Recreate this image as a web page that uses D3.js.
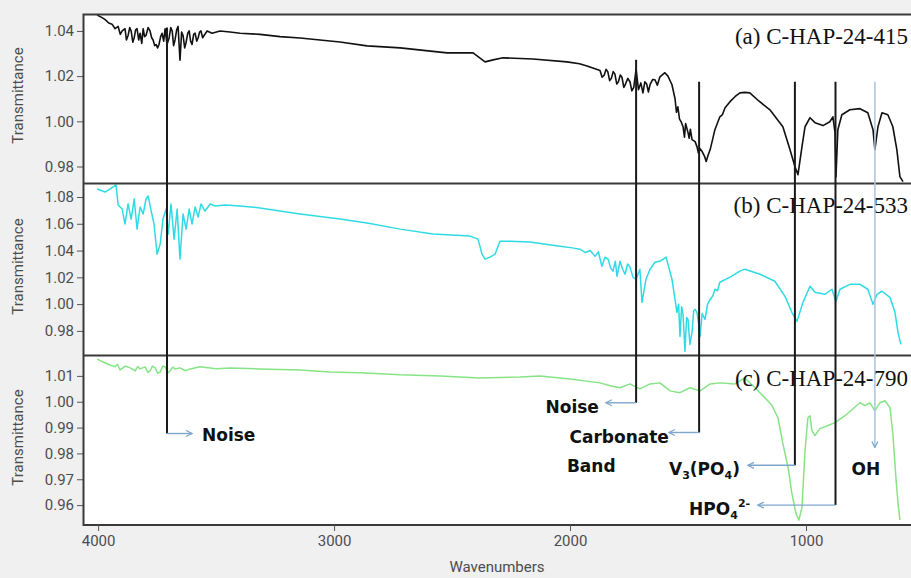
<!DOCTYPE html>
<html>
<head>
<meta charset="utf-8">
<style>
  body { margin: 0; padding: 0; background: #f0f0f0; }
  svg { display: block; }
  .tick text { font-family: Roboto, sans-serif; font-size: 15px; fill: #4d4d4d; }
  .tick line { stroke: #555; }
  .ylab, .xlab { font-family: Roboto, sans-serif; font-size: 15px; fill: #4d4d4d; }
  .note { font-family: "DejaVu Sans", sans-serif; font-weight: bold; font-size: 17px; fill: #111; }
  .tag { font-family: "Liberation Serif", serif; font-size: 23px; fill: #111; }
</style>
</head>
<body>
<div id="chart"></div>
<script src="https://cdnjs.cloudflare.com/ajax/libs/d3/7.8.5/d3.min.js"></script>
<script>
// spectra: [wavenumber, transmittance]
var specA = [[4004,1.047],[3985,1.046],[3970,1.045],[3955,1.0435],[3941,1.043],[3928,1.041],[3915,1.042],[3906,1.0385],[3898,1.040],[3886,1.041],[3880,1.036],[3873,1.038],[3866,1.0415],[3860,1.040],[3853,1.035],[3847,1.037],[3841,1.0405],[3835,1.041],[3828,1.036],[3822,1.039],[3815,1.0345],[3809,1.041],[3803,1.0375],[3797,1.038],[3788,1.0415],[3780,1.040],[3773,1.037],[3767,1.036],[3760,1.0335],[3754,1.034],[3748,1.0325],[3742,1.034],[3735,1.0375],[3729,1.039],[3722,1.0355],[3716,1.041],[3708,1.034],[3699,1.037],[3692,1.0415],[3686,1.040],[3680,1.0335],[3674,1.036],[3667,1.0405],[3661,1.042],[3653,1.027],[3646,1.0395],[3640,1.038],[3633,1.0325],[3627,1.035],[3620,1.039],[3614,1.040],[3608,1.0355],[3602,1.034],[3595,1.0385],[3589,1.039],[3582,1.0355],[3576,1.037],[3570,1.0395],[3564,1.040],[3557,1.037],[3551,1.038],[3538,1.040],[3517,1.039],[3483,1.040],[3441,1.0395],[3398,1.039],[3314,1.0385],[3229,1.0375],[3144,1.0369],[2975,1.0351],[2860,1.0334],[2720,1.0325],[2521,1.0303],[2411,1.0303],[2360,1.0263],[2326,1.0272],[2284,1.0281],[2157,1.0276],[2013,1.0263],[1960,1.0255],[1928,1.0245],[1900,1.0235],[1873,1.0225],[1864,1.0195],[1855,1.0205],[1847,1.0230],[1840,1.0220],[1832,1.0180],[1825,1.0190],[1817,1.0220],[1810,1.0210],[1802,1.0165],[1795,1.0175],[1787,1.0205],[1780,1.0195],[1772,1.0150],[1765,1.0165],[1755,1.0190],[1746,1.0175],[1738,1.0135],[1730,1.0150],[1720,1.0230],[1710,1.0140],[1700,1.0170],[1691,1.0126],[1683,1.0175],[1675,1.0165],[1668,1.0130],[1661,1.0162],[1650,1.0185],[1640,1.0184],[1630,1.0160],[1619,1.0197],[1598,1.0215],[1585,1.0200],[1568,1.0162],[1555,1.0100],[1549,1.0040],[1543,1.0064],[1536,1.0010],[1530,1.0000],[1521,0.9976],[1515,0.9930],[1510,0.9990],[1500,0.9950],[1495,0.9925],[1490,0.9965],[1483,0.9919],[1470,0.9910],[1462,0.9888],[1456,0.9860],[1450,0.9880],[1440,0.9866],[1430,0.9845],[1423,0.9822],[1415,0.9850],[1406,0.9875],[1386,0.9963],[1365,1.0020],[1354,1.0030],[1343,1.0060],[1322,1.0087],[1300,1.0110],[1280,1.0126],[1259,1.0128],[1238,1.0126],[1200,1.0090],[1153,1.0051],[1098,0.9976],[1068,0.9875],[1047,0.9800],[1034,0.9764],[1017,0.9888],[1004,0.9976],[983,1.0016],[962,0.9994],[928,0.9981],[899,0.9998],[886,1.0020],[877,0.9950],[873,0.9755],[865,0.9963],[848,1.0029],[814,1.0051],[771,1.0056],[738,1.0038],[716,0.9963],[708,0.9875],[695,0.9976],[678,1.0038],[653,1.0029],[632,0.9976],[615,0.9875],[602,0.9755],[589,0.9733]];

var specB = [[4004,1.086],[3970,1.0837],[3949,1.086],[3924,1.089],[3915,1.074],[3898,1.071],[3886,1.0598],[3873,1.0748],[3860,1.0635],[3847,1.0785],[3835,1.056],[3822,1.0725],[3809,1.0673],[3797,1.0785],[3788,1.0807],[3775,1.0695],[3763,1.0598],[3750,1.0373],[3737,1.0448],[3725,1.0635],[3712,1.071],[3703,1.0523],[3691,1.0748],[3678,1.0485],[3665,1.071],[3653,1.0336],[3640,1.0673],[3627,1.056],[3614,1.071],[3602,1.0598],[3589,1.0725],[3576,1.065],[3564,1.0748],[3547,1.0695],[3525,1.0748],[3504,1.0733],[3462,1.074],[3398,1.0733],[3314,1.0718],[3229,1.0695],[3144,1.0673],[2975,1.0635],[2860,1.0605],[2720,1.056],[2581,1.0523],[2424,1.0508],[2390,1.0485],[2373,1.0373],[2360,1.0336],[2339,1.0351],[2318,1.0373],[2297,1.047],[2254,1.047],[2170,1.0463],[2043,1.0433],[1990,1.0420],[1958,1.041],[1935,1.0385],[1915,1.0400],[1894,1.0358],[1880,1.0390],[1865,1.0283],[1852,1.0350],[1839,1.0336],[1828,1.0270],[1818,1.0246],[1808,1.0320],[1801,1.0208],[1788,1.032],[1777,1.0260],[1767,1.0223],[1756,1.0300],[1746,1.0276],[1733,1.0200],[1720,1.0186],[1704,1.026],[1695,1.0013],[1678,1.0186],[1661,1.026],[1640,1.0313],[1619,1.032],[1593,1.0351],[1568,1.0186],[1555,1.0036],[1547,0.9939],[1540,1.0000],[1534,0.9759],[1527,0.9980],[1521,0.9924],[1513,0.9647],[1506,0.9900],[1500,0.9886],[1492,0.9699],[1483,0.9789],[1476,0.9950],[1470,0.9961],[1462,0.9939],[1455,0.9850],[1449,0.9759],[1440,0.9930],[1428,0.9886],[1417,1.0000],[1406,1.0036],[1395,1.0060],[1386,1.0111],[1375,1.0100],[1365,1.0163],[1322,1.0201],[1280,1.0246],[1259,1.0261],[1195,1.0223],[1132,1.0171],[1089,1.0058],[1060,0.9939],[1038,0.9871],[1013,1.0013],[983,1.0133],[962,1.0088],[920,1.0073],[890,1.0111],[873,1.0021],[856,1.0111],[814,1.0148],[771,1.0148],[738,1.0111],[716,0.9999],[699,1.0073],[678,1.0096],[644,1.0051],[623,0.9939],[610,0.9789],[598,0.9699]];

var specC = [[4004,1.0165],[3970,1.015],[3950,1.0142],[3928,1.0135],[3918,1.0145],[3907,1.0123],[3885,1.0138],[3864,1.0131],[3843,1.0119],[3832,1.0136],[3822,1.0127],[3801,1.0135],[3790,1.0114],[3780,1.0119],[3770,1.0138],[3758,1.0131],[3748,1.0110],[3737,1.0115],[3726,1.0138],[3716,1.0135],[3705,1.0112],[3695,1.0119],[3684,1.0134],[3674,1.0127],[3653,1.0131],[3630,1.0120],[3610,1.0127],[3568,1.0135],[3500,1.0128],[3441,1.0131],[3314,1.0127],[3144,1.0123],[3017,1.0115],[2890,1.0112],[2720,1.0104],[2551,1.0100],[2382,1.0092],[2212,1.0096],[2127,1.0100],[2000,1.0088],[1873,1.0073],[1830,1.0062],[1788,1.0054],[1746,1.0069],[1704,1.0050],[1661,1.0069],[1619,1.0073],[1576,1.0042],[1534,1.0035],[1492,1.0054],[1449,1.0042],[1406,1.0069],[1365,1.0073],[1301,1.0069],[1259,1.0092],[1216,1.0054],[1174,1.0015],[1144,0.9985],[1119,0.9938],[1098,0.9838],[1076,0.9746],[1060,0.9646],[1043,0.9569],[1030,0.9542],[1017,0.9592],[1004,0.9811],[992,0.9938],[983,0.9946],[975,0.9888],[962,0.9869],[941,0.9896],[907,0.9908],[877,0.9919],[835,0.9946],[801,0.9973],[771,0.9996],[750,0.9985],[729,0.9996],[708,0.9965],[687,0.9996],[665,1.0004],[644,0.9977],[632,0.9877],[619,0.9707],[610,0.9607],[602,0.9542]];

var ticksA = [0.98, 1.00, 1.02, 1.04];
var ticksB = [0.98, 1.00, 1.02, 1.04, 1.06, 1.08];
var ticksC = [0.96, 0.97, 0.98, 0.99, 1.00, 1.01];
var xTicks = [4000, 3000, 2000, 1000];
var sampleNames = ['(a) C-HAP-24-415', '(b) C-HAP-24-533', '(c) C-HAP-24-790'];
var bandWn = [3708, 1720, 1453, 1047, 875, 708];

var width = 911, height = 578;
var svg = d3.select('#chart').append('svg').attr('width', width).attr('height', height);
svg.append('rect').attr('width', width).attr('height', height).attr('fill', '#f0f0f0');
svg.append('rect').attr('x', 83).attr('y', 14).attr('width', 830).attr('height', 511).attr('fill', '#fff');

var x = d3.scaleLinear().domain([4064, 555]).range([83, 911]);

var panels = [
  {data: specA, dom: [0.9727, 1.0475], rng: [183, 14], ticks: ticksA, color: '#111', tagY: 44},
  {data: specB, dom: [0.962, 1.0897], rng: [355, 184], ticks: ticksB, color: '#2edbe4', tagY: 213},
  {data: specC, dom: [0.9523, 1.0177], rng: [525, 356], ticks: ticksC, color: '#86e486', tagY: 386}
];

var defs = svg.append('defs');
panels.forEach(function(p, i) {
  p.y = d3.scaleLinear().domain(p.dom).range(p.rng);
  defs.append('clipPath').attr('id', 'clip' + i).append('rect')
    .attr('x', 83).attr('y', p.rng[1]).attr('width', 828).attr('height', p.rng[0] - p.rng[1]);

  var line = d3.line().x(function(d) { return x(d[0]); }).y(function(d) { return p.y(d[1]); });
  svg.append('path').datum(p.data)
    .attr('clip-path', 'url(#clip' + i + ')')
    .attr('d', line)
    .attr('fill', 'none')
    .attr('stroke', p.color)
    .attr('stroke-width', i == 0 ? 1.6 : 1.5)
    .attr('stroke-linejoin', 'round');

  var ax = svg.append('g').attr('transform', 'translate(83,0)')
    .call(d3.axisLeft(p.y).tickValues(p.ticks).tickFormat(d3.format('.2f')).tickSize(6).tickPadding(3));
  ax.select('.domain').remove();

  svg.append('text').attr('class', 'ylab')
    .attr('transform', 'translate(23,' + ((p.rng[0] + p.rng[1]) / 2 - 3) + ') rotate(-90)')
    .attr('text-anchor', 'middle').text('Transmittance');

  svg.append('text').attr('class', 'tag')
    .attr('x', 908).attr('y', p.tagY).attr('text-anchor', 'end').text(sampleNames[i]);
});

// frame
svg.append('path')
  .attr('d', 'M913,14.5 H83.5 V525 H913 M83,183.5 H913 M83,355.5 H913')
  .attr('fill', 'none').attr('stroke', '#3a3a3a').attr('stroke-width', 2);

var xa = svg.append('g').attr('transform', 'translate(0,525)')
  .call(d3.axisBottom(x).tickValues(xTicks).tickFormat(d3.format('d')).tickSize(6).tickPadding(4));
xa.select('.domain').remove();
svg.append('text').attr('class', 'xlab').attr('x', 497).attr('y', 572)
  .attr('text-anchor', 'middle').text('Wavenumbers');

// band annotations
var yA = panels[0].y, yC = panels[2].y;
var blue = '#7fa6cc';
defs.append('marker').attr('id', 'head').attr('viewBox', '0 0 8 8')
  .attr('refX', 7).attr('refY', 4).attr('markerWidth', 8).attr('markerHeight', 8)
  .attr('markerUnits', 'userSpaceOnUse').attr('orient', 'auto')
  .append('path').attr('d', 'M1,1 L7,4 L1,7').attr('fill', 'none')
  .attr('stroke', blue).attr('stroke-width', 1.3);

function elbow(wn, top, bot, tip) {
  var lx = x(wn), by = yC(bot);
  svg.append('line').attr('x1', lx).attr('x2', lx).attr('y1', yA(top)).attr('y2', by)
    .attr('stroke', '#1a1a1a').attr('stroke-width', 2);
  svg.append('line').attr('x1', lx).attr('x2', x(tip)).attr('y1', by).attr('y2', by)
    .attr('stroke', blue).attr('stroke-width', 1.4).attr('marker-end', 'url(#head)');
  return by;
}

var y1 = elbow(bandWn[0], 1.0415, 0.9877, 3602);
svg.append('text').attr('class', 'note').attr('x', x(3602) + 10).attr('y', y1 + 7).text('Noise');

var y2 = elbow(bandWn[1], 1.0272, 0.9996, 1848);
svg.append('text').attr('class', 'note').attr('x', x(1848) - 7).attr('y', y2 + 10)
  .attr('text-anchor', 'end').text('Noise');

var y3 = elbow(bandWn[2], 1.0175, 0.9881, 1581);
svg.append('text').attr('class', 'note').attr('x', x(1581)).attr('y', y3 + 11)
  .attr('text-anchor', 'end').text('Carbonate');
svg.append('text').attr('class', 'note').attr('x', x(1581) - 102).attr('y', y3 + 40).text('Band');

var y4 = elbow(bandWn[3], 1.0175, 0.9754, 1246);
var t4 = svg.append('text').attr('class', 'note').attr('x', x(1246) - 8).attr('y', y4 + 10)
  .attr('text-anchor', 'end');
t4.append('tspan').text('V');
t4.append('tspan').attr('dy', 4).attr('font-size', 11).text('3');
t4.append('tspan').attr('dy', -4).text('(PO');
t4.append('tspan').attr('dy', 4).attr('font-size', 11).text('4');
t4.append('tspan').attr('dy', -4).text(')');

var y5 = elbow(bandWn[4], 1.0175, 0.9600, 1204);
var t5 = svg.append('text').attr('class', 'note').attr('x', x(1204) - 6).attr('y', y5 + 10)
  .attr('text-anchor', 'end');
t5.append('tspan').text('HPO');
t5.append('tspan').attr('dy', 4).attr('font-size', 11).text('4');
t5.append('tspan').attr('dy', -12).attr('font-size', 11).text('2-');
t5.append('tspan').attr('dy', 8).text('\u200a');

// OH: light blue drop line
var ohx = x(bandWn[5]);
svg.append('line').attr('x1', ohx).attr('x2', ohx).attr('y1', yA(1.0175)).attr('y2', yC(0.9823))
  .attr('stroke', '#a9c4de').attr('stroke-width', 1.5).attr('marker-end', 'url(#head)');
svg.append('text').attr('class', 'note').attr('x', ohx - 9).attr('y', 475)
  .attr('text-anchor', 'middle').text('OH');
</script>
</body>
</html>
